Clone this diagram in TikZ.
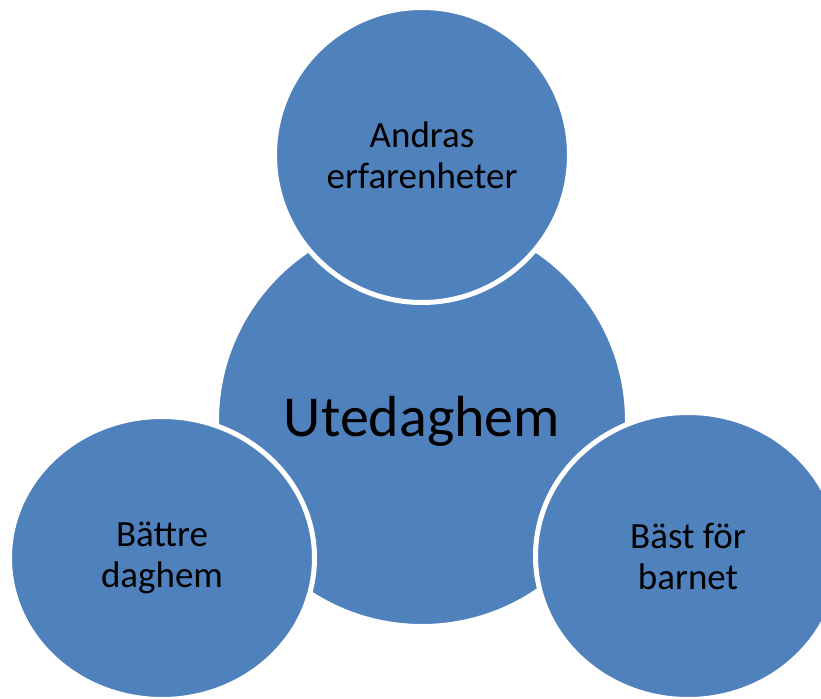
\documentclass[tikz,border=0pt]{standalone}
\usepackage{fontspec}
\setmainfont{Carlito}
\usetikzlibrary{shapes.geometric}

\definecolor{bubbleblue}{RGB}{79,129,189}
\tikzset{
  bubble/.style={circle, fill=bubbleblue, draw=white, line width=5pt, inner sep=0pt,
    align=center, font=\fontsize{37}{41}\selectfont},
  sidebubble/.style={bubble, ellipse}
}

\begin{document}
\begin{tikzpicture}[x=1pt, y=-1pt]
\useasboundingbox (0,0) rectangle (821,698);

\node[bubble, minimum size=411pt, font=\fontsize{58}{60}\selectfont] (hub) at (422,421) {Utedaghem};

\node[bubble, minimum size=295pt] (top) at (422,155) {Andras\\erfarenheter};
\node[sidebubble, minimum width=305pt, minimum height=283pt] (left) at (162,558) {Bättre\\daghem};
\node[sidebubble, minimum width=305pt, minimum height=287pt] (right) at (688,556) {Bäst för\\barnet};
\end{tikzpicture}
\end{document}
